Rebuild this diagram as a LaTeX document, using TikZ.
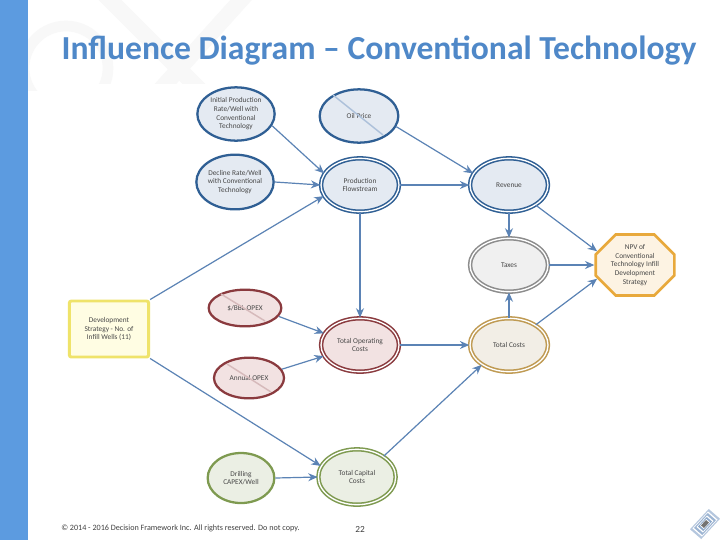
\documentclass[tikz,border=0pt]{standalone}
\usepackage{fontspec}
\setmainfont{Carlito}
\usetikzlibrary{shapes.geometric,shapes.misc,arrows.meta,calc}
\definecolor{barblue}{HTML}{5C9BE0}
\definecolor{titleblue}{HTML}{4F88C8}
\definecolor{linkblue}{HTML}{5B83B5}
\definecolor{navy}{HTML}{2F5F94}
\definecolor{navyfill}{HTML}{E4EAF2}
\definecolor{wm}{HTML}{F8F8F8}
\definecolor{tan}{HTML}{BF9A52}
\definecolor{tanfill}{HTML}{F2EEE6}
\definecolor{wine}{HTML}{8A3A3E}
\definecolor{winefill}{HTML}{F2E2E2}
\definecolor{moss}{HTML}{7E9A50}
\definecolor{mossfill}{HTML}{EBEFE4}
\definecolor{amber}{HTML}{E8A93C}
\definecolor{amberfill}{HTML}{FDF3E3}
\definecolor{lemon}{HTML}{EFE36A}
\definecolor{lemonfill}{HTML}{FFFDE3}
\tikzset{
  x=0.75pt,y=-0.75pt,
  lab/.style={font=\fontsize{5.5}{6.5}\selectfont,align=center,text=black!72},
  oval/.style={ellipse,draw=#1,line width=1.7pt,inner sep=0pt,minimum width=58pt,minimum height=40pt,lab},
  dbl/.style={ellipse,draw=#1,double=white,double distance=1pt,line width=1.15pt,inner sep=0pt,minimum width=58.5pt,minimum height=40pt,lab},
  link/.style={draw=linkblue,line width=0.9pt,-{Stealth[length=7pt,width=6pt]}},
  strike/.style={draw=#1,line width=1.1pt},
}
\begin{document}
\begin{tikzpicture}
\useasboundingbox (0,0) rectangle (720,540);
\fill[white] (0,0) rectangle (720,540);
% faint watermark
\begin{scope}
\clip (28,0) rectangle (720,90);
\draw[wm,line width=8pt] (66,68) circle[radius=42];
\draw[wm,line width=12pt] (100,-10) -- (200,90);
\draw[wm,line width=12pt] (250,-10) -- (160,90);
\end{scope}
\fill[barblue] (0,0) rectangle (28,540);
\fill[white] (64,84) rectangle (682,525);
\node[font=\bfseries\fontsize{25.2}{28}\selectfont,text=titleblue,inner sep=0pt] (title) at (379,51) {Influence Diagram – Conventional Technology};
% nodes
\node[oval=navy,fill=navyfill] (init) at (236,114) {Initial Production\\Rate/Well with\\Conventional\\Technology};
\node[oval=navy,fill=navyfill,minimum width=59pt] (oil) at (359,116) {Oil Price};
\node[oval=navy,fill=navyfill,minimum height=41pt] (decl) at (235,182) {Decline Rate/Well\\with Conventional\\Technology};
\node[dbl=navy,fill=navyfill] (prod) at (360,185) {Production\\Flowstream};
\node[dbl=navy,fill=navyfill] (rev) at (509,185) {Revenue};
\node[dbl=black!45,fill=black!6] (tax) at (509,265) {Taxes};
\node[dbl=tan,fill=tanfill] (cost) at (509,345) {Total Costs};
\node[chamfered rectangle,chamfered rectangle xsep=7.5pt,chamfered rectangle ysep=7.5pt,draw=amber,fill=amberfill,line width=2pt,minimum width=59pt,minimum height=42pt,inner sep=0pt,lab] (npv) at (635,265) {NPV of\\Conventional\\Technology Infill\\Development\\Strategy};
\node[rectangle,rounded corners=1.5pt,draw=lemon,fill=lemonfill,line width=2.2pt,minimum width=59.5pt,minimum height=42pt,inner sep=0pt,lab] (dev) at (109,329) {Development\\Strategy - No. of\\Infill Wells (11)};
\node[oval=wine,fill=winefill,minimum width=54.5pt,minimum height=27.5pt] (bbl) at (245,308) {\$/BBL OPEX};
\node[oval=wine,fill=winefill,minimum width=52.5pt,minimum height=30.5pt] (ann) at (249,378) {Annual OPEX};
\node[dbl=wine,fill=winefill] (opx) at (360,345) {Total Operating\\Costs};
\node[oval=moss,fill=mossfill,minimum width=50pt,minimum height=37.5pt] (drill) at (241,478) {Drilling\\CAPEX/Well};
\node[dbl=moss,fill=mossfill,minimum width=58pt,minimum height=41.5pt] (capx) at (357,477) {Total Capital\\Costs};
% strike-through lines
\draw[strike=linkblue!50] ($(oil)+(-26,-21)$) -- ($(oil)+(24,19)$);
\draw[strike=wine!35] ($(bbl)+(-24,-14)$) -- ($(bbl)+(20,13)$);
\draw[strike=wine!35] ($(ann)+(-22,-14)$) -- ($(ann)+(22,14)$);
% connectors
\draw[link] (init.-18) -- (prod.162);
\draw[link] (decl.east) -- (prod.west);
\draw[link] (dev.north east) -- (prod.197);
\draw[link] (oil.-16) -- (rev.162);
\draw[link] (prod.east) -- (rev.west);
\draw[link] (rev.south) -- (tax.north);
\draw[link] (rev.-37) -- (npv.160);
\draw[link] (tax.east) -- (npv.west);
\draw[link] (cost.north) -- (tax.south);
\draw[link] (cost.37) -- (npv.200);
\draw[link] (prod.south) -- (opx.north);
\draw[link] (opx.east) -- (cost.west);
\draw[link] (capx.38) -- (cost.216);
\draw[link] (bbl.-14) -- (opx.162);
\draw[link] (ann.15) -- (opx.197);
\draw[link] (dev.south east) -- (capx.163);
\draw[link] (drill.east) -- (capx.west);
% footer
\node[font=\fontsize{6.1}{7}\selectfont,text=black!75,anchor=west,inner sep=0pt] (foot) at (61,528) {© 2014 - 2016 Decision Framework Inc. All rights reserved. Do not copy.};
\node[font=\fontsize{7}{8}\selectfont,text=black!75] (pg) at (360,529) {22};
% logo
\foreach \r/\c in {15/linkblue!45,12.5/white,11/linkblue!60,8.5/white,7/linkblue!70,5/white,4/black!55}
  \fill[\c] ($(705,524)+(\r,-\r*0.35)$) -- ($(705,524)+(\r*0.25,-\r)$) -- ($(705,524)+(-\r,\r*0.35)$) -- ($(705,524)+(-\r*0.25,\r)$) -- cycle;
\end{tikzpicture}
\end{document}
